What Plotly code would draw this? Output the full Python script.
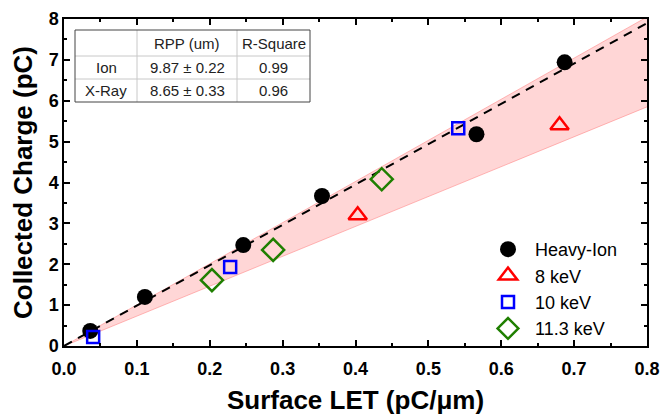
import plotly.graph_objects as go

# Data
ion_x = [0.036, 0.111, 0.246, 0.354, 0.566, 0.687]
ion_y = [0.37, 1.20, 2.47, 3.67, 5.18, 6.94]
kev8_x = [0.403, 0.680]
kev8_y = [3.20, 5.40]
kev10_x = [0.040, 0.228, 0.541]
kev10_y = [0.22, 1.93, 5.33]
kev113_x = [0.203, 0.287, 0.436]
kev113_y = [1.61, 2.35, 4.08]

fit_x = [0.0, 0.8]
fit_y = [0.0, 7.90]
band_x = [0.0, 0.8]
band_low = [0.0, 5.85]
band_high = [0.0, 8.05]

table_header = ["", "RPP (um)", "R-Square"]
table_rows = [["Ion", "9.87 ± 0.22", "0.99"], ["X-Ray", "8.65 ± 0.33", "0.96"]]

FONT = "Liberation Sans, Arial, sans-serif"

fig = go.Figure()
fig.add_trace(go.Scatter(x=band_x, y=band_low, mode="lines",
                         line=dict(color="rgba(255,120,120,0.5)", width=1),
                         showlegend=False, hoverinfo="skip"))
fig.add_trace(go.Scatter(x=band_x, y=band_high, mode="lines", fill="tonexty",
                         fillcolor="rgba(255,0,0,0.16)",
                         line=dict(color="rgba(255,120,120,0.5)", width=1),
                         showlegend=False, hoverinfo="skip"))
fig.add_trace(go.Scatter(x=fit_x, y=fit_y, mode="lines",
                         line=dict(color="black", width=2, dash="9px,7px"),
                         showlegend=False, hoverinfo="skip"))
fig.add_trace(go.Scatter(x=ion_x, y=ion_y, mode="markers", name="Heavy-Ion",
                         marker=dict(symbol="circle", size=16, color="black")))
fig.add_trace(go.Scatter(x=kev8_x, y=kev8_y, mode="markers", name="8 keV",
                         marker=dict(symbol="triangle-up-open", size=16, color="#ff0000",
                                     line=dict(width=2.5, color="#ff0000"))))
fig.add_trace(go.Scatter(x=kev10_x, y=kev10_y, mode="markers", name="10 keV",
                         marker=dict(symbol="square-open", size=12, color="#0000ff",
                                     line=dict(width=2.5, color="#0000ff"))))
fig.add_trace(go.Scatter(x=kev113_x, y=kev113_y, mode="markers", name="11.3 keV",
                         marker=dict(symbol="diamond-open", size=17, color="#1f7f00",
                                     line=dict(width=2.5, color="#1f7f00"))))

axis_common = dict(showline=True, linecolor="black", linewidth=1.5, mirror="allticks",
                   ticks="inside", ticklen=6, tickwidth=1.5, tickcolor="black",
                   showgrid=False, zeroline=False, automargin=False,
                   tickfont=dict(family=FONT, size=18, color="black", weight="bold"))

fig.update_xaxes(range=[0, 0.8], dtick=0.1, tickformat=".1f", ticklabelstandoff=6,
                 minor=dict(ticks="inside", ticklen=3, tickwidth=1.5, tickcolor="black", dtick=0.05),
                 title=dict(text="Surface LET (pC/μm)", standoff=12,
                            font=dict(family=FONT, size=26, color="black", weight="bold")),
                 **axis_common)
fig.update_yaxes(range=[0, 8], dtick=1,
                 minor=dict(ticks="inside", ticklen=3, tickwidth=1.5, tickcolor="black", dtick=0.5),
                 title=dict(text="Collected Charge (pC)", standoff=9,
                            font=dict(family=FONT, size=26, color="black", weight="bold")),
                 **axis_common)

# Table drawn as shapes + annotations in paper coords
L, R, T, B = 64, 647, 19, 346
W, H = R - L, B - T
def px(x):
    return (x - L) / W
def py(y):
    return (B - y) / H

col_edges = [75, 137, 237, 310]
row_edges = [30, 56, 79, 102]
shapes = []
for xe in col_edges[1:-1]:
    shapes.append(dict(type="line", xref="paper", yref="paper", x0=px(xe), x1=px(xe),
                       y0=py(row_edges[0]), y1=py(row_edges[-1]), line=dict(color="#c8c8c8", width=1)))
for ye in row_edges[1:-1]:
    shapes.append(dict(type="line", xref="paper", yref="paper", x0=px(col_edges[0]), x1=px(col_edges[-1]),
                       y0=py(ye), y1=py(ye), line=dict(color="#c8c8c8", width=1)))
shapes.append(dict(type="rect", xref="paper", yref="paper", x0=px(col_edges[0]), x1=px(col_edges[-1]),
                   y0=py(row_edges[0]), y1=py(row_edges[-1]), line=dict(color="#444444", width=1),
                   fillcolor="rgba(0,0,0,0)"))
annotations = []
all_rows = [table_header] + table_rows
for ri, row in enumerate(all_rows):
    yc = (row_edges[ri] + row_edges[ri + 1]) / 2
    for ci, txt in enumerate(row):
        if not txt:
            continue
        xc = (col_edges[ci] + col_edges[ci + 1]) / 2
        annotations.append(dict(xref="paper", yref="paper", x=px(xc), y=py(yc), text=txt,
                                showarrow=False, xanchor="center", yanchor="middle",
                                font=dict(family=FONT, size=15, color="#222222")))

fig.update_layout(
    width=667, height=417,
    margin=dict(l=L, r=667 - R, t=T, b=417 - B, autoexpand=False),
    plot_bgcolor="white", paper_bgcolor="white",
    shapes=shapes, annotations=annotations,
    legend=dict(x=px(481), y=py(231), xanchor="left", yanchor="top",
                traceorder="normal",
                bgcolor="rgba(0,0,0,0)", font=dict(family=FONT, size=18, color="black"),
                itemwidth=44, tracegroupgap=0),
)

fig.write_html("out.html")
